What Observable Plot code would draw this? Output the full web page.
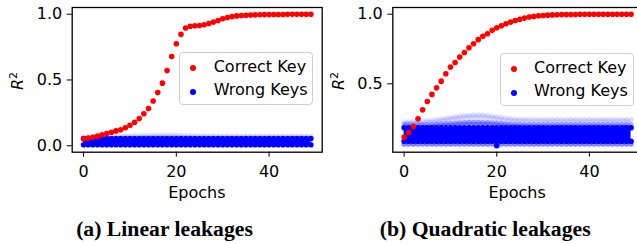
<!DOCTYPE html>
<html><head><meta charset="utf-8">
<script src="https://cdn.jsdelivr.net/npm/d3@7"></script>
<script src="https://cdn.jsdelivr.net/npm/@observablehq/plot@0.6"></script>
<style>
html,body{margin:0;padding:0;background:#fff;}
#wrap{position:relative;width:637px;height:244px;overflow:hidden;font-family:"DejaVu Sans";color:#000;}
.panel{position:absolute;top:0;}
.lbl{position:absolute;font-size:16px;line-height:1;white-space:nowrap;}
.ylab{position:absolute;font-size:16px;line-height:1;white-space:nowrap;transform:translate(-50%,-50%) rotate(-90deg);}
.ylab sup{font-size:11px;vertical-align:6px;}
.cap{position:absolute;font-family:"Liberation Serif";font-weight:bold;font-size:21.7px;line-height:1;white-space:nowrap;transform:translateX(-50%);}
.legend{position:absolute;border:1px solid #d0d0d0;border-radius:4px;background:rgba(255,255,255,0.8);box-sizing:border-box;}
.legend .mk{position:absolute;width:6px;height:6px;border-radius:50%;transform:translate(-50%,-50%);}
.legend .tx{position:absolute;font-size:16px;line-height:1;white-space:nowrap;}
</style>
</head><body>
<div id="wrap"></div>
<script>
// ---- data ----
const epochs = [0,1,2,3,4,5,6,7,8,9,10,11,12,13,14,15,16,17,18,19,20,21,22,23,24,25,26,27,28,29,30,31,32,33,34,35,36,37,38,39,40,41,42,43,44,45,46,47,48,49];
const xTicks = [0, 20, 40];
const yTicksLinear = [0.0, 0.5, 1.0];
const yTicksQuadratic = [0.5, 1.0];
const seriesNames = ["Correct Key", "Wrong Keys"];
const captions = ["(a) Linear leakages", "(b) Quadratic leakages"];
const xLabel = "Epochs";

const linearCorrect = [0.053,0.058,0.065,0.073,0.083,0.093,0.103,0.113,0.122,0.137,
0.156,0.178,0.207,0.243,0.283,0.340,0.404,0.476,0.572,0.678,
0.775,0.847,0.895,0.909,0.912,0.914,0.919,0.929,0.940,0.952,
0.965,0.975,0.982,0.987,0.990,0.992,0.994,0.995,0.996,0.997,
0.997,0.998,0.998,0.998,0.999,0.999,0.999,0.999,1.000,1.000];
// wrong keys: envelope of the dense band (lowest, densest top, faint top)
const linearWrongLow = [0.008,0.008,0.008,0.008,0.008,0.008,0.008,0.008,0.008,0.008,
0.008,0.008,0.008,0.008,0.008,0.008,0.008,0.008,0.008,0.008,
0.008,0.008,0.008,0.008,0.008,0.008,0.008,0.008,0.008,0.008,
0.008,0.008,0.008,0.008,0.008,0.008,0.008,0.008,0.008,0.008,
0.008,0.008,0.008,0.008,0.008,0.008,0.008,0.008,0.008,0.008];
const linearWrongHigh = [0.055,0.055,0.055,0.055,0.055,0.055,0.055,0.055,0.055,0.055,
0.055,0.055,0.055,0.055,0.055,0.055,0.055,0.055,0.055,0.055,
0.055,0.055,0.055,0.055,0.055,0.055,0.055,0.055,0.055,0.055,
0.055,0.055,0.055,0.055,0.055,0.055,0.055,0.055,0.055,0.055,
0.055,0.055,0.055,0.055,0.055,0.055,0.055,0.055,0.055,0.055];
const linearWrongHalo = [0.066,0.066,0.067,0.068,0.068,0.069,0.070,0.071,0.072,0.073,
0.074,0.075,0.076,0.077,0.078,0.079,0.080,0.080,0.080,0.080,
0.079,0.078,0.077,0.076,0.075,0.074,0.074,0.073,0.073,0.072,
0.072,0.072,0.072,0.072,0.072,0.072,0.072,0.072,0.072,0.072,
0.072,0.072,0.072,0.072,0.072,0.072,0.072,0.072,0.072,0.072];

const quadraticCorrect = [0.117,0.150,0.194,0.249,0.313,0.373,0.424,0.471,0.519,0.572,
0.620,0.653,0.692,0.725,0.759,0.788,0.817,0.841,0.860,0.884,
0.903,0.917,0.931,0.943,0.955,0.963,0.972,0.979,0.984,0.989,
0.991,0.993,0.995,0.996,0.997,0.997,0.998,0.998,0.999,0.999,
0.999,0.999,1.000,1.000,1.000,1.000,1.000,1.000,1.000,1.000];
const quadraticWrongLow = [0.068,0.068,0.068,0.068,0.068,0.068,0.068,0.068,0.068,0.068,
0.068,0.068,0.068,0.068,0.068,0.068,0.068,0.068,0.068,0.068,
0.068,0.068,0.068,0.068,0.068,0.068,0.068,0.068,0.068,0.068,
0.068,0.068,0.068,0.068,0.068,0.068,0.068,0.068,0.068,0.068,
0.068,0.068,0.068,0.068,0.068,0.068,0.068,0.068,0.068,0.068];
const quadraticWrongCoreLow = [0.088,0.088,0.088,0.088,0.088,0.088,0.088,0.088,0.088,0.088,
0.088,0.088,0.088,0.088,0.088,0.088,0.088,0.088,0.088,0.088,
0.088,0.088,0.088,0.088,0.088,0.088,0.088,0.088,0.088,0.088,
0.088,0.088,0.088,0.088,0.088,0.088,0.088,0.088,0.088,0.088,
0.088,0.088,0.088,0.088,0.088,0.088,0.088,0.088,0.088,0.088];
const quadraticWrongHigh = [0.185,0.185,0.185,0.185,0.185,0.185,0.185,0.185,0.185,0.185,
0.185,0.185,0.185,0.185,0.185,0.185,0.185,0.185,0.185,0.185,
0.185,0.185,0.185,0.185,0.185,0.185,0.185,0.185,0.185,0.185,
0.185,0.185,0.185,0.185,0.185,0.185,0.185,0.185,0.185,0.185,
0.185,0.185,0.185,0.185,0.185,0.185,0.185,0.185,0.185,0.185];
const quadraticWrongMid = [0.205,0.205,0.205,0.205,0.205,0.205,0.207,0.209,0.211,0.213,
0.215,0.217,0.219,0.221,0.222,0.222,0.222,0.221,0.220,0.218,
0.216,0.214,0.212,0.210,0.208,0.207,0.206,0.205,0.205,0.205,
0.205,0.205,0.205,0.205,0.205,0.205,0.205,0.205,0.205,0.205,
0.205,0.205,0.205,0.205,0.205,0.205,0.205,0.205,0.205,0.205];
const quadraticWrongHalo = [0.226,0.228,0.229,0.230,0.232,0.234,0.237,0.241,0.246,0.251,
0.256,0.261,0.266,0.270,0.273,0.275,0.275,0.274,0.271,0.267,
0.262,0.257,0.253,0.249,0.246,0.244,0.243,0.242,0.242,0.242,
0.242,0.242,0.242,0.242,0.242,0.242,0.242,0.242,0.242,0.242,
0.242,0.242,0.242,0.242,0.242,0.242,0.242,0.242,0.242,0.242];
const quadraticWrongOutlierEpoch = [20];
const quadraticWrongOutlierValue = [0.055];

const RED = "#ff0000", BLUE = "#0000ff";
const R = 2.8;

function table(correct, low, coreLow, high, mid, halo) {
  return epochs.map((e, i) => ({epoch: e, correct: correct[i], low: low[i],
    coreLow: coreLow ? coreLow[i] : low[i], high: high[i], mid: mid ? mid[i] : high[i], halo: halo[i]}));
}

function panel(opts) {
  const d = opts.data;
  const marks = [
    // faint halo of the wrong keys
    Plot.areaY(d, {x: "epoch", y1: "high", y2: "halo", fill: BLUE, fillOpacity: 0.13}),
    Plot.dot(d, {x: "epoch", y: "halo", r: R, fill: BLUE, fillOpacity: 0.13}),
  ];
  if (opts.hasMid) {
    marks.push(
      Plot.areaY(d, {x: "epoch", y1: "high", y2: "mid", fill: BLUE, fillOpacity: 0.3}),
      Plot.dot(d, {x: "epoch", y: "mid", r: R, fill: BLUE, fillOpacity: 0.3}),
      Plot.areaY(d, {x: "epoch", y1: "low", y2: "coreLow", fill: BLUE, fillOpacity: 0.45}),
      Plot.dot(d, {x: "epoch", y: "low", r: R, fill: BLUE, fillOpacity: 0.45})
    );
  }
  marks.push(
    Plot.areaY(d, {x: "epoch", y1: "coreLow", y2: "high", fill: BLUE}),
    Plot.dot(d, {x: "epoch", y: "high", r: R, fill: BLUE}),
    Plot.dot(d, {x: "epoch", y: "coreLow", r: R, fill: BLUE})
  );
  if (opts.outliers) marks.push(Plot.dot(opts.outliers, {x: "epoch", y: "value", r: R, fill: BLUE}));
  marks.push(
    Plot.dot(d, {x: "epoch", y: "correct", r: R, fill: RED}),
    Plot.frame({stroke: "#000", strokeWidth: 1.3}),
    Plot.axisX(xTicks, {tickSize: 5, tickPadding: 8, label: null, fontSize: 16}),
    Plot.axisY(opts.yTicks, {tickSize: 5, tickPadding: 5, tickFormat: d3.format(".1f"), label: null, fontSize: 16})
  );
  return Plot.plot({
    width: opts.width, height: 205,
    marginLeft: opts.marginLeft, marginRight: opts.marginRight, marginTop: 7, marginBottom: 53.3,
    style: {fontFamily: "DejaVu Sans", fontSize: "16px", color: "#000", background: "transparent", overflow: "visible"},
    x: {domain: [-2.45, 51.45]},
    y: {domain: opts.yDomain},
    marks
  });
}

const wrap = document.getElementById("wrap");

const left = panel({
  data: table(linearCorrect, linearWrongLow, null, linearWrongHigh, null, linearWrongHalo),
  yTicks: yTicksLinear, yDomain: [-0.049, 1.051], width: 322, marginLeft: 71.7, marginRight: 0.3
});
left.classList.add("panel"); left.style.left = "0px";
wrap.appendChild(left);

const right = panel({
  data: table(quadraticCorrect, quadraticWrongLow, quadraticWrongCoreLow, quadraticWrongHigh, quadraticWrongMid, quadraticWrongHalo),
  hasMid: true,
  outliers: quadraticWrongOutlierEpoch.map((e, i) => ({epoch: e, value: quadraticWrongOutlierValue[i]})),
  yTicks: yTicksQuadratic, yDomain: [0.009, 1.048], width: 322, marginLeft: 70.3, marginRight: 2.1
});
right.classList.add("panel"); right.style.left = "322px";
wrap.appendChild(right);

function addLabel(cls, html, x, y) {
  const el = document.createElement("div");
  el.className = cls; el.innerHTML = html;
  el.style.left = x + "px"; el.style.top = y + "px";
  wrap.appendChild(el);
  return el;
}
// axis titles
addLabel("ylab", "<i>R</i><sup>2</sup>", 17, 80.5);
addLabel("ylab", "<i>R</i><sup>2</sup>", 337.8, 80.5);
const e1 = addLabel("lbl", xLabel, 196.8, 184.7); e1.style.transform = "translateX(-50%)";
const e2 = addLabel("lbl", xLabel, 517.1, 184.7); e2.style.transform = "translateX(-50%)";
// captions
addLabel("cap", captions[0], 164.5, 218.5);
addLabel("cap", captions[1], 485.2, 218.5);

// legends
function legend(x, y) {
  const box = document.createElement("div");
  box.className = "legend";
  box.style.left = x + "px"; box.style.top = y + "px";
  box.style.width = "134px"; box.style.height = "53px";
  [RED, BLUE].forEach((c, i) => {
    const mk = document.createElement("div");
    mk.className = "mk"; mk.style.background = c;
    mk.style.left = "13px"; mk.style.top = (14.4 + 24 * i) + "px";
    box.appendChild(mk);
    const tx = document.createElement("div");
    tx.className = "tx"; tx.textContent = seriesNames[i];
    tx.style.left = "33.4px"; tx.style.top = (6 + 23.2 * i) + "px";
    box.appendChild(tx);
  });
  wrap.appendChild(box);
}
legend(179.3, 52.3);
legend(499.7, 53.3);
</script>
</body></html>
